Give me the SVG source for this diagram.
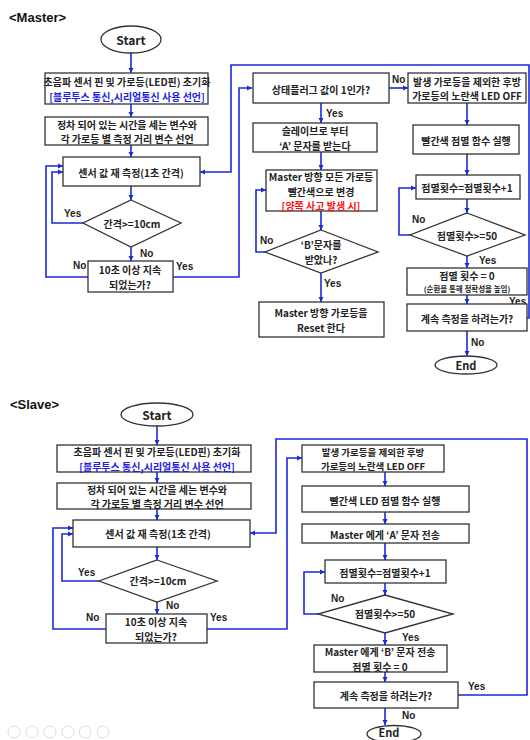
<svg xmlns="http://www.w3.org/2000/svg" width="530" height="740" viewBox="0 0 530 740">
<defs>
<marker id="ah" markerWidth="6" markerHeight="6" refX="5" refY="3" orient="auto" markerUnits="userSpaceOnUse">
<path d="M0,0.5 L5,3 L0,5.5 Z" fill="#1a2ad6"/>
</marker>
<style>
.b{fill:#fff;stroke:#333;stroke-width:1.3}
.t{font-family:"Noto Sans CJK KR","Liberation Sans",sans-serif;font-size:10px;font-weight:bold;fill:#222;text-anchor:middle;dominant-baseline:central}
.s{font-size:7.5px}
.n{font-size:9.5px}
.blue{fill:#2222dd}
.red{fill:#ff1010}
.l{font-family:"Liberation Sans","Noto Sans CJK KR",sans-serif;font-size:10px;font-weight:bold;fill:#222;dominant-baseline:central}
.h{font-family:"Liberation Sans",sans-serif;font-size:13px;font-weight:bold;fill:#111}
.c{fill:none;stroke:#1a2ad6;stroke-width:1.6}
.a{marker-end:url(#ah)}
.ic{fill:none;stroke:#ddd;stroke-width:1}
</style>
</defs>

<text class="h" x="9" y="22">&lt;Master&gt;</text>
<text class="h" x="10" y="409">&lt;Slave&gt;</text>

<g id="connectors">
<path class="c a" d="M131,53 V73"/>
<path class="c a" d="M131,104 V117"/>
<path class="c a" d="M131,145 V157"/>
<path class="c a" d="M131,186 V200"/>
<path class="c a" d="M83,223 H52 V172 H63"/>
<path class="c a" d="M131,247 V261"/>
<path class="c a" d="M88,277 H46 V166 H63"/>
<path class="c a" d="M173,277 H239 V88 H252"/>
<path class="c a" d="M389,88 H408"/>
<path class="c a" d="M321,103 V123"/>
<path class="c a" d="M321,152 V170"/>
<path class="c a" d="M321,211 V230"/>
<path class="c a" d="M265,252 H256 V190 H266"/>
<path class="c a" d="M321,273 V302"/>
<path class="c a" d="M467,103 V125"/>
<path class="c a" d="M467,154 V175"/>
<path class="c a" d="M467,199 V213"/>
<path class="c a" d="M410,235 H399 V188 H416"/>
<path class="c a" d="M467,256 V268"/>
<path class="c a" d="M467,295 V304"/>
<path class="c a" d="M527,318 H529 V65 H231 V172 H200"/>
<path class="c a" d="M467,331 V356"/>

<path class="c a" d="M157,426 V445"/>
<path class="c a" d="M157,472 V483"/>
<path class="c a" d="M157,509 V520"/>
<path class="c a" d="M157,547 V560"/>
<path class="c a" d="M99,581 H62 V534 H73"/>
<path class="c a" d="M157,602 V614"/>
<path class="c a" d="M106,629 H53 V528 H73"/>
<path class="c a" d="M207,629 H287 V458 H302"/>
<path class="c a" d="M385,472 V486"/>
<path class="c a" d="M385,512 V524"/>
<path class="c a" d="M385,543 V560"/>
<path class="c a" d="M385,583 V595"/>
<path class="c a" d="M318,614 H304 V572 H325"/>
<path class="c a" d="M385,633 V645"/>
<path class="c a" d="M385,672 V682"/>
<path class="c a" d="M458,695 H527 V439 H276 V533 H250"/>
<path class="c a" d="M385,708 V725"/>
</g>

<g id="labels">
<text class="l" x="64" y="213">Yes</text>
<text class="l" x="140" y="253">No</text>
<text class="l" x="73" y="265">No</text>
<text class="l" x="176" y="266">Yes</text>
<text class="l" x="392" y="79">No</text>
<text class="l" x="326" y="113">Yes</text>
<text class="l" x="260" y="240">No</text>
<text class="l" x="324" y="283">Yes</text>
<text class="l" x="412" y="219">No</text>
<text class="l" x="479" y="260">Yes</text>
<text class="l" x="509" y="301">Yes</text>
<text class="l" x="471" y="342">No</text>

<text class="l" x="78" y="572">Yes</text>
<text class="l" x="166" y="605">No</text>
<text class="l" x="86" y="617">No</text>
<text class="l" x="210" y="617">Yes</text>
<text class="l" x="331" y="598">No</text>
<text class="l" x="402" y="637">Yes</text>
<text class="l" x="468" y="686">Yes</text>
<text class="l" x="402" y="715">No</text>
</g>

<g id="m-start"><ellipse class="b" cx="131" cy="39.5" rx="30" ry="13.5"/><text class="t" x="131" y="39" style="font-size:12px">Start</text></g>
<g id="m-init"><rect class="b" x="45" y="73" width="163" height="31"/><text class="t" x="127" y="81.5">초음파 센서 핀 및 가로등(LED핀) 초기화</text><text class="t blue" x="127" y="96">[블루투스 통신,시리얼통신 사용 선언]</text></g>
<g id="m-var"><rect class="b" x="45" y="117" width="163" height="28"/><text class="t" x="127" y="124">정차 되어 있는 시간을 세는 변수와</text><text class="t" x="127" y="138.5">각 가로등 별 측정 거리 변수 선언</text></g>
<g id="m-measure"><rect class="b" x="63" y="157" width="137" height="29"/><text class="t" x="131" y="172">센서 값 재 측정(1초 간격)</text></g>
<g id="m-gap"><polygon class="b" points="131,200 181,223 131,247 83,223"/><text class="t" x="132" y="223">간격&gt;=10cm</text></g>
<g id="m-10s"><rect class="b" x="88" y="261" width="85" height="31"/><text class="t" x="130" y="269.5">10초 이상 지속</text><text class="t" x="130" y="284">되었는가?</text></g>
<g id="m-flag"><rect class="b" x="253" y="73" width="136" height="30"/><text class="t" x="321" y="89">상태플러그 값이 1인가?</text></g>
<g id="m-recvA"><rect class="b" x="253" y="123" width="124" height="29"/><text class="t" x="315" y="130.5">슬레이브로 부터</text><text class="t" x="315" y="145">‘A’ 문자를 받는다</text></g>
<g id="m-red"><rect class="b" x="266" y="170" width="111" height="41"/><text class="t" x="321" y="176.5">Master 방향 모든 가로등</text><text class="t" x="321" y="191">빨간색으로 변경</text><text class="t red" x="321" y="205.5">[양쪽 사고 발생 시]</text></g>
<g id="m-recvB"><polygon class="b" points="321,230 378,252 321,273 265,252"/><text class="t" x="321" y="244.5">‘B’문자를</text><text class="t" x="321" y="259">받았나?</text></g>
<g id="m-reset"><rect class="b" x="259" y="302" width="125" height="35"/><text class="t" x="321" y="312.5">Master 방향 가로등을</text><text class="t" x="321" y="327">Reset 한다</text></g>
<g id="m-off"><rect class="b" x="408" y="73" width="118" height="30"/><text class="t" x="467" y="81">발생 가로등을 제외한 후방</text><text class="t" x="467" y="95.5">가로등의 노란색 LED OFF</text></g>
<g id="m-blink"><rect class="b" x="413" y="125" width="106" height="29"/><text class="t" x="466" y="140">빨간색 점멸 함수 실행</text></g>
<g id="m-count"><rect class="b" x="416" y="175" width="104" height="24"/><text class="t" x="467" y="187">점멸횟수=점멸횟수+1</text></g>
<g id="m-cmp"><polygon class="b" points="467,213 525,235 467,256 410,235"/><text class="t" x="467" y="235">점멸횟수&gt;=50</text></g>
<g id="m-zero"><rect class="b" x="407" y="268" width="120" height="27"/><text class="t" x="467" y="275">점멸 횟수 = 0</text><text class="t s" x="467" y="288">(순환을 통해 정확성을 높임)</text></g>
<g id="m-cont"><rect class="b" x="407" y="304" width="120" height="27"/><text class="t" x="467" y="318">계속 측정을 하려는가?</text></g>
<g id="m-end"><ellipse class="b" cx="466" cy="365" rx="31" ry="9"/><text class="t" x="466" y="365" style="font-size:11px">End</text></g>

<g id="s-start"><ellipse class="b" cx="157" cy="414.5" rx="36" ry="11.5"/><text class="t" x="157" y="414" style="font-size:12px">Start</text></g>
<g id="s-init"><rect class="b" x="57" y="445" width="194" height="27"/><text class="t" x="157" y="451.5">초음파 센서 핀 및 가로등(LED핀) 초기화</text><text class="t blue" x="157" y="466">[블루투스 통신,시리얼통신 사용 선언]</text></g>
<g id="s-var"><rect class="b" x="57" y="483" width="194" height="26"/><text class="t" x="157" y="489">정차 되어 있는 시간을 세는 변수와</text><text class="t" x="157" y="503.5">각 가로등 별 측정 거리 변수 선언</text></g>
<g id="s-measure"><rect class="b" x="73" y="520" width="177" height="27"/><text class="t" x="158" y="533">센서 값 재 측정(1초 간격)</text></g>
<g id="s-gap"><polygon class="b" points="157,560 217,581 157,602 99,581"/><text class="t" x="158" y="580">간격&gt;=10cm</text></g>
<g id="s-10s"><rect class="b" x="106" y="614" width="101" height="29"/><text class="t" x="156" y="621.5">10초 이상 지속</text><text class="t" x="156" y="636">되었는가?</text></g>
<g id="s-off"><rect class="b" x="302" y="445" width="142" height="27"/><text class="t n" x="373" y="451.6">발생 가로등을 제외한 후방</text><text class="t n" x="373" y="465.5">가로등의 노란색 LED OFF</text></g>
<g id="s-blink"><rect class="b" x="302" y="486" width="167" height="26"/><text class="t" x="385" y="500">빨간색 LED 점멸 함수 실행</text></g>
<g id="s-sendA"><rect class="b" x="302" y="524" width="167" height="19"/><text class="t" x="385" y="534">Master 에게 ‘A’ 문자 전송</text></g>
<g id="s-count"><rect class="b" x="325" y="560" width="121" height="23"/><text class="t" x="385" y="572">점멸횟수=점멸횟수+1</text></g>
<g id="s-cmp"><polygon class="b" points="385,595 453,614 385,633 318,614"/><text class="t" x="385" y="613">점멸횟수&gt;=50</text></g>
<g id="s-sendB"><rect class="b" x="314" y="645" width="133" height="27"/><text class="t" x="380" y="651.5">Master 에게 ‘B’ 문자 전송</text><text class="t" x="380" y="666">점멸 횟수 = 0</text></g>
<g id="s-cont"><rect class="b" x="314" y="682" width="144" height="26"/><text class="t" x="386" y="695">계속 측정을 하려는가?</text></g>
<g id="s-end"><ellipse class="b" cx="394" cy="734" rx="27" ry="8.5"/><text class="t" x="389" y="731.5" style="font-size:11px">End</text></g>

<g id="toolbar">
<circle class="ic" cx="14" cy="732" r="6"/>
<circle class="ic" cx="32" cy="732" r="6"/>
<circle class="ic" cx="50" cy="732" r="6"/>
<circle class="ic" cx="68" cy="732" r="6"/>
<circle class="ic" cx="85" cy="732" r="6"/>
<circle class="ic" cx="103" cy="732" r="6"/>
</g>
</svg>
